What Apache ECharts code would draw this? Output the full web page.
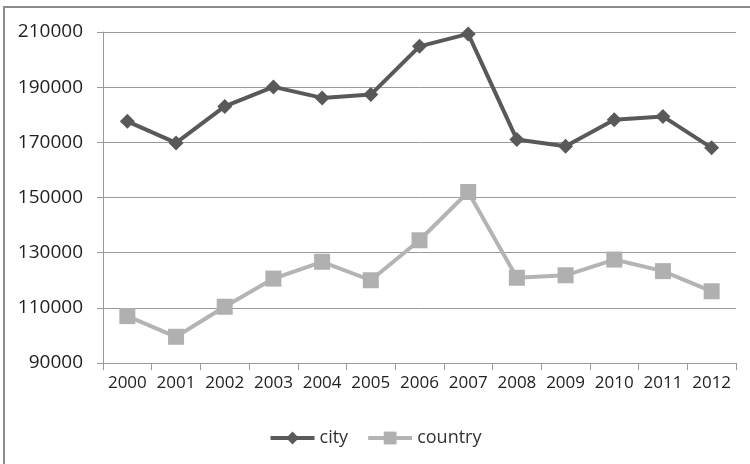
<!DOCTYPE html>
<html>
<head>
<meta charset="utf-8">
<script src="https://cdn.jsdelivr.net/npm/echarts@6/dist/echarts.min.js"></script>
<style>
  html, body { margin: 0; padding: 0; background: #fff; }
  #chart { width: 750px; height: 464px; }
</style>
</head>
<body>
<div id="chart"></div>
<script>
const years = ['2000', '2001', '2002', '2003', '2004', '2005', '2006',
  '2007', '2008', '2009', '2010', '2011', '2012'];
const city = [177600, 169800, 183000, 190100, 186100, 187300, 204800,
  209300, 171000, 168600, 178200, 179400, 168000];
const country = [107000, 99500, 110400, 120600, 126700, 120000, 134500,
  152000, 120900, 121800, 127500, 123300, 116000];

const font = '"Open Sans", "Liberation Sans", sans-serif';

const chart = echarts.init(document.getElementById('chart'), null, { renderer: 'canvas' });
chart.setOption({
  animation: false,
  backgroundColor: '#fff',
  graphic: [{
    type: 'rect',
    shape: { x: 4, y: 7, width: 800, height: 500 },
    style: { fill: 'none', stroke: '#8c8c8c', lineWidth: 2 },
    silent: true
  }],
  grid: { left: 103, right: 14, top: 32, bottom: 101 },
  legend: {
    bottom: 12,
    left: 'center',
    itemWidth: 44,
    itemHeight: 16,
    itemGap: 18,
    lineStyle: { width: 4 },
    textStyle: { fontFamily: font, fontSize: 18, color: '#333' },
    data: ['city', 'country']
  },
  xAxis: {
    type: 'category',
    data: years,
    boundaryGap: true,
    axisLine: { lineStyle: { color: '#9a9a9a', width: 1 } },
    axisTick: { show: true, length: 7, lineStyle: { color: '#9a9a9a' } },
    axisLabel: { fontFamily: font, fontSize: 17, color: '#222', margin: 12, interval: 0 }
  },
  yAxis: {
    type: 'value',
    min: 90000,
    max: 210000,
    interval: 20000,
    axisLine: { show: true, lineStyle: { color: '#9a9a9a', width: 1 } },
    axisTick: { show: true, length: 6, inside: false, lineStyle: { color: '#9a9a9a' } },
    splitLine: { lineStyle: { color: '#9a9a9a', width: 1 } },
    axisLabel: {
      fontFamily: font, fontSize: 19, color: '#222', margin: 20,
      formatter: (v) => String(v)
    }
  },
  series: [
    {
      name: 'city',
      type: 'line',
      data: city,
      symbol: 'diamond',
      symbolSize: 15,
      lineStyle: { color: '#595959', width: 4 },
      itemStyle: { color: '#595959' }
    },
    {
      name: 'country',
      type: 'line',
      data: country,
      symbol: 'rect',
      symbolSize: 16,
      lineStyle: { color: '#b4b4b4', width: 4 },
      itemStyle: { color: '#b0b0b0' }
    }
  ]
});
</script>
</body>
</html>
